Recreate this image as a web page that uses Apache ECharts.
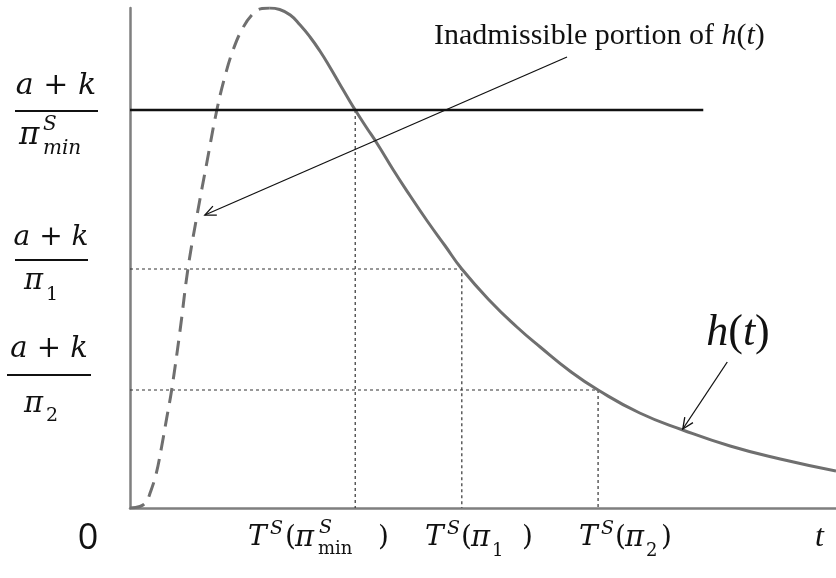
<!DOCTYPE html>
<html><head><meta charset="utf-8">
<script src="https://cdn.jsdelivr.net/npm/echarts@6/dist/echarts.min.js"></script>
<style>html,body{margin:0;padding:0;background:#fff}#c{width:836px;height:578px}</style>
</head><body><div id="c"></div>
<script>
// h(t): inadmissible (dashed) rising portion, t in [0,10], h normalised to peak = 1
const tDashed = [0, 0.14, 0.23, 0.28, 0.37, 0.45, 0.52, 0.59, 0.71, 0.82, 0.95, 1.09, 1.23, 1.35, 1.46, 1.59, 1.74, 1.87, 1.98];
const hDashed = [0, 0.003, 0.012, 0.028, 0.068, 0.124, 0.18, 0.236, 0.356, 0.478, 0.586, 0.692, 0.796, 0.866, 0.916, 0.958, 0.988, 0.999, 1.0];
// h(t): admissible (solid) portion
const tSolid = [1.98, 2.12, 2.27, 2.41, 2.55, 2.69, 2.83, 2.97, 3.12, 3.19, 3.34, 3.50, 3.73, 3.97, 4.21, 4.46, 4.70, 5.10, 5.48, 5.81, 6.23, 6.63, 7.22, 7.83, 8.50, 9.21, 10.0];
const hSolid = [1.0, 0.997, 0.986, 0.966, 0.942, 0.914, 0.882, 0.848, 0.812, 0.796, 0.763, 0.729, 0.676, 0.624, 0.574, 0.525, 0.478, 0.414, 0.362, 0.322, 0.274, 0.236, 0.19, 0.156, 0.124, 0.098, 0.074];
// threshold levels (a+k)/pi and corresponding T^S(pi)
const levelNames = ['piMin', 'pi1', 'pi2'];
const levelH = [0.796, 0.478, 0.236];
const levelT = [3.19, 4.70, 6.63];
const thresholdEndT = 8.12;

const zip = (a, b) => a.map((v, i) => [v, b[i]]);
const curveColor = '#6f6f6f';
const guide = { color: '#333', width: 1.2, type: [3, 3] };

const series = [
  { type: 'line', data: zip(tDashed, hDashed), smooth: 0.4, symbol: 'none',
    lineStyle: { color: curveColor, width: 3, type: [15, 9] }, z: 3 },
  { type: 'line', data: zip(tSolid, hSolid), smooth: 0.5, symbol: 'none',
    lineStyle: { color: curveColor, width: 3 }, z: 3 },
  { type: 'line', data: [[0, levelH[0]], [thresholdEndT, levelH[0]]], symbol: 'none',
    lineStyle: { color: '#111', width: 2.5 }, z: 4 },
  { type: 'line', data: [[levelT[0], levelH[0]], [levelT[0], 0]], symbol: 'none', lineStyle: guide, z: 2 },
  { type: 'line', data: [[0, levelH[1]], [levelT[1], levelH[1]], [levelT[1], 0]], symbol: 'none', lineStyle: guide, z: 2 },
  { type: 'line', data: [[0, levelH[2]], [levelT[2], levelH[2]], [levelT[2], 0]], symbol: 'none', lineStyle: guide, z: 2 }
];

const chart = echarts.init(document.getElementById('c'), null, { renderer: 'canvas' });
chart.setOption({
  animation: false,
  backgroundColor: '#fff',
  grid: { left: 130, right: 0, top: 8, bottom: 70 },
  xAxis: { type: 'value', min: 0, max: 10, axisLine: { show: true, lineStyle: { color: '#7f7f7f', width: 2.5 } },
    axisTick: { show: false }, axisLabel: { show: false }, splitLine: { show: false } },
  yAxis: { type: 'value', min: 0, max: 1, axisLine: { show: true, lineStyle: { color: '#7f7f7f', width: 2.5 } },
    axisTick: { show: false }, axisLabel: { show: false }, splitLine: { show: false } },
  series: series
});

const MATH = '"DejaVu Serif", serif';
const TIMES = '"Liberation Serif", "Times New Roman", serif';
function txt(x, y, text, size, opt) {
  opt = opt || {};
  const align = opt.align || 'left';
  return { type: 'text', x: x, y: y, z: 10, style: {
    text: text, fontSize: size, fontFamily: opt.family || MATH, fontStyle: opt.italic === false ? 'normal' : 'italic',
    fill: '#111', align: align, textAlign: align, verticalAlign: 'middle', textVerticalAlign: 'middle', rich: opt.rich
  } };
}
function hline(x1, x2, y, w) {
  return { type: 'line', z: 10, shape: { x1: x1, y1: y, x2: x2, y2: y }, style: { stroke: '#111', lineWidth: w || 1.8 } };
}
function arrow(from, to) {
  const p1 = chart.convertToPixel({ gridIndex: 0 }, from);
  const p2 = chart.convertToPixel({ gridIndex: 0 }, to);
  const ang = Math.atan2(p1[1] - p2[1], p1[0] - p2[0]);
  const L = 12, a = 0.42;
  const h1 = [p2[0] + L * Math.cos(ang + a), p2[1] + L * Math.sin(ang + a)];
  const h2 = [p2[0] + L * Math.cos(ang - a), p2[1] + L * Math.sin(ang - a)];
  return [
    { type: 'line', z: 10, shape: { x1: p1[0], y1: p1[1], x2: p2[0], y2: p2[1] }, style: { stroke: '#111', lineWidth: 1.3 } },
    { type: 'polyline', z: 10, shape: { points: [h1, p2, h2] }, style: { stroke: '#111', lineWidth: 1.3, fill: null } }
  ];
}

const g = [];
// left fractions
g.push(txt(56, 86, 'a + k', 30, { align: 'center' }), hline(15, 98, 111, 2), txt(19, 136, 'π', 31), txt(43, 125, 'S', 20), txt(43, 149, 'min', 20));
g.push(txt(51, 238, 'a + k', 28, { align: 'center' }), hline(15, 88, 260, 1.8), txt(24, 281, 'π', 29), txt(46, 295, '1', 19, { italic: false }));
g.push(txt(49, 349, 'a + k', 29, { align: 'center' }), hline(7, 91, 375, 1.8), txt(24, 404, 'π', 29), txt(46, 416, '2', 19, { italic: false }));
// zero
g.push(txt(88, 539, '0', 36, { align: 'center', italic: false, family: '"Open Sans", sans-serif' }));
// x labels
g.push(txt(248, 538, 'T', 28), txt(270, 529, 'S', 19), txt(285, 538, '(', 28, { italic: false }), txt(295, 538, 'π', 29),
       txt(319, 528, 'S', 19), txt(318, 549, 'min', 18, { italic: false }), txt(378, 538, ')', 28, { italic: false }));
g.push(txt(425, 538, 'T', 28), txt(447, 529, 'S', 19), txt(461, 538, '(', 28, { italic: false }), txt(471, 538, 'π', 29),
       txt(492, 551, '1', 18, { italic: false }), txt(522, 538, ')', 28, { italic: false }));
g.push(txt(579, 538, 'T', 28), txt(601, 529, 'S', 19), txt(615, 538, '(', 28, { italic: false }), txt(625, 538, 'π', 29),
       txt(646, 551, '2', 18, { italic: false }), txt(661, 538, ')', 28, { italic: false }));
g.push(txt(815, 538, 't', 32, { family: TIMES }));
// annotations
g.push({ type: 'text', x: 434, y: 36, z: 10, style: {
  text: 'Inadmissible portion of {i|h}({i|t})', fontSize: 30, fontFamily: TIMES, fill: '#111',
  align: 'left', textAlign: 'left', verticalAlign: 'middle', textVerticalAlign: 'middle',
  rich: { i: { fontSize: 30, fontFamily: TIMES, fontStyle: 'italic', fill: '#111' } } } });
g.push({ type: 'text', x: 738, y: 333, z: 10, style: {
  text: '{i|h}({i|t})', fontSize: 44, fontFamily: TIMES, fill: '#111',
  align: 'center', textAlign: 'center', verticalAlign: 'middle', textVerticalAlign: 'middle',
  rich: { i: { fontSize: 44, fontFamily: TIMES, fontStyle: 'italic', fill: '#111' } } } });
g.push(...arrow([6.19, 0.902], [1.06, 0.586]));
g.push(...arrow([8.46, 0.292], [7.83, 0.158]));

chart.setOption({ graphic: { elements: g } });
</script>
</body></html>
